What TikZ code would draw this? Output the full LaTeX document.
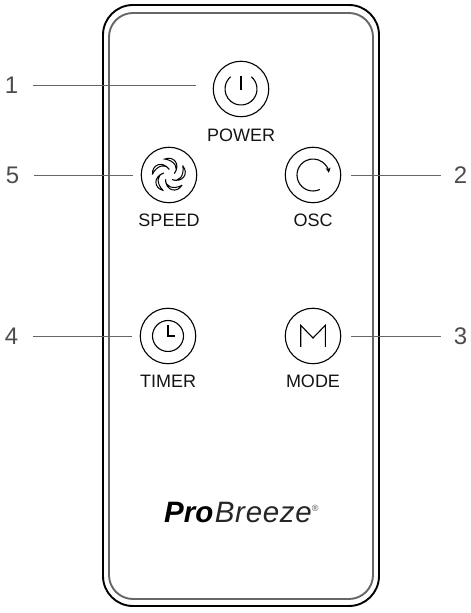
\documentclass[tikz,border=0pt]{standalone}
\usepackage{fontspec}
\setmainfont{Liberation Sans}
\usetikzlibrary{arrows.meta, positioning}

\begin{document}
\begin{tikzpicture}[
                x=1pt, y=1pt,
                >={Stealth[length=5pt, width=5pt]},
                body/.style={
                        draw, rounded corners=30pt, line width=1.9pt,
                        minimum width=276pt, minimum height=601pt,
                        outer sep=0pt, inner sep=0pt
                    },
                inlay/.style={
                        draw=black!60, rounded corners=24pt, line width=1.9pt,
                        minimum width=264pt, minimum height=586pt,
                        outer sep=0pt, inner sep=0pt
                    },
                button/.style={
                        draw, circle, line width=1.1pt,
                        minimum size=55.5pt, outer sep=0pt, inner sep=0pt
                    },
                caption/.style={
                        font=\fontsize{18}{20}\selectfont, text=black!92,
                        inner sep=0pt, outer sep=0pt
                    },
                num/.style={
                        font=\fontsize{24}{26}\selectfont, text=black!70,
                        inner sep=0pt, outer sep=0pt
                    },
                lead/.style={draw=black!60, line width=0.8pt},
                icon/.style={line width=1.1pt},
                ]
                \useasboundingbox (0,0) rectangle (471,613);

                \node[body] (remote) at (241,307.5) {};
                \node[inlay] (panel) at (241,307) {};

                % buttons
                \node[button] (power) at (241,524) {};
                \node[button] (speed) at (169,438) {};
                \node[button, right=88.5pt of speed] (osc) {};
                \node[button, below=105.5pt of speed, xshift=-1pt] (timer) {};
                \node[button, right=89.5pt of timer] (mode) {};

                % captions
                \node[caption, below=12pt of power] (powerlabel) {POWER};
                \node[caption, below=11pt of speed] (speedlabel) {SPEED};
                \node[caption, below=11pt of osc] (osclabel) {OSC};
                \node[caption, below=11pt of timer] (timerlabel) {TIMER};
                \node[caption, below=11pt of mode] (modelabel) {MODE};

                % numbers
                \node[num, left=195pt of power, yshift=4pt] (num1) {1};
                \node[num, left=122pt of speed] (num5) {5};
                \node[num, left=122pt of timer] (num4) {4};
                \node[num, right=113pt of osc] (num2) {2};
                \node[num, right=113pt of mode] (num3) {3};

                \draw[lead, shorten <=15pt, shorten >=17pt] (num1) -- (num1 -| power.west);
                \draw[lead, shorten <=15pt, shorten >=8pt] (num5) -- (speed);
                \draw[lead, shorten <=15pt, shorten >=8pt] (num4) -- (timer);
                \draw[lead, shorten <=13pt, shorten >=10pt] (num2) -- (osc);
                \draw[lead, shorten <=13pt, shorten >=10pt] (num3) -- (mode);

                % icons
                \begin{scope}[shift={(power)}, icon]
                    \draw (50:16) arc[start angle=50, end angle=-230, radius=16];
                    \draw (0,13) -- (0,-1.5);
                \end{scope}
                \begin{scope}[shift={(speed)}, icon, line width=1pt]
                    \foreach \a in {0,72,...,288} {
                        \draw[rotate=\a] (105:16.5) .. controls (78:20) and (42:16.5) .. (15:5.5)
                            .. controls (35:12.5) and (70:15.5) .. cycle;
                    }
                \end{scope}
                \begin{scope}[shift={(osc)}, icon]
                    \draw[->] (-65:16) arc[start angle=-65, end angle=-352, radius=16];
                \end{scope}
                \begin{scope}[shift={(timer)}, icon]
                    \draw (0,0) circle[radius=15.5];
                    \draw (0,11) -- (0,0) -- (7,0);
                \end{scope}
                \begin{scope}[shift={(mode)}, icon]
                    \draw (-12.3,-11) -- (-12.3,10.7) -- (0,-2) -- (12.3,10.7) -- (12.3,-11);
                \end{scope}

                % logo
                \node[anchor=base west, inner sep=0pt, font=\fontsize{29.5}{32}\selectfont] (logo) at (164,90)
                    {{\bfseries\itshape Pro}\kern1.5pt{\itshape\addfontfeature{LetterSpace=2.4}\color{black!85}Breeze}\raisebox{11pt}{\fontsize{9}{9}\selectfont\color{black!70}®}};
            \end{tikzpicture}
\end{document}
